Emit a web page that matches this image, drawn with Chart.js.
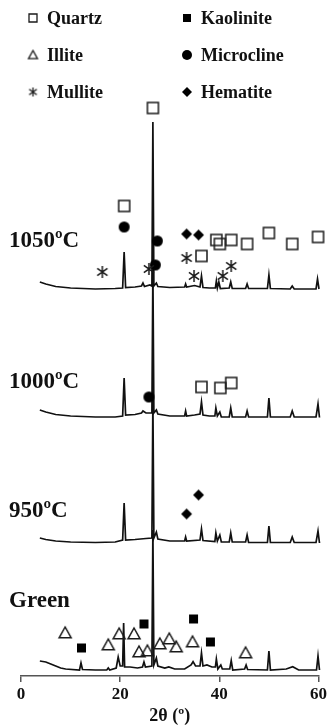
<!DOCTYPE html>
<html>
<head>
<meta charset="utf-8">
<script src="https://cdn.jsdelivr.net/npm/chart.js@4.4.0/dist/chart.umd.min.js"></script>
<style>
  html, body { margin: 0; padding: 0; background: #fff; }
  canvas { display: block; }
</style>
</head>
<body>
<canvas id="xrd" width="329" height="727"></canvas>
<script>
// 2θ axis
const xTicks = [0, 20, 40, 60];

// XRD traces: [2θ, intensity above the trace's own baseline] (a.u.)
const trace1050 = [[3.8, 5], [5, 3], [7, 0.5], [10, -1], [15, -2], [19, -1.5], [20.5, -1], [20.8, 35], [21.1, -0.5],
  [23, 0], [24.3, 1], [24.6, 4], [24.9, 0.5], [26.0, 2], [26.4, 1], [26.6, 165], [26.8, 1], [27.3, 4], [27.6, 0.5],
  [30, -0.5], [33.0, 0], [33.2, 3], [33.4, 0], [35.0, 1.5], [36.1, 0], [36.4, 11], [36.7, -0.5], [38, -1],
  [39.2, -1], [39.4, 6], [39.6, -1], [39.9, 5], [40.2, -1.5], [42.0, -1], [42.3, 5], [42.6, -1.5], [45.3, -1.5],
  [45.6, 3], [45.9, -1.5], [49.7, -1.5], [50.0, 12], [50.3, -1.5], [54.3, -2], [54.7, 1], [55.1, -2], [59.5, -2],
  [59.8, 8], [60.1, -2], [60.8, -3]];

const trace1000 = [[3.8, 7], [5, 5], [7, 2.5], [10, 1], [15, 0], [19, 0], [20.5, 1], [20.8, 39], [21.1, 2],
  [23, 2.5], [24.3, 4], [24.6, 6], [25.2, 4], [26.4, 4], [26.6, 147], [26.8, 4], [27.3, 7], [27.6, 3], [30, 1],
  [33.0, 1], [33.2, 6], [33.4, 1], [35, 2], [36.1, 3], [36.4, 15], [36.7, 2], [38, 1], [39.1, 1], [39.3, 9],
  [39.6, 1], [40.1, 5], [40.4, 0], [42.0, 0], [42.3, 9], [42.6, 0], [45.3, 0], [45.6, 6], [45.9, 0], [49.7, 0],
  [50.0, 19], [50.3, 0], [54.3, 0], [54.7, 6], [55.1, 0], [59.5, 0], [59.9, 13], [60.2, -0.5], [60.8, -1.5]];

const trace950 = [[3.8, 4], [5, 2.5], [7, 1], [10, 0], [15, -0.5], [19, 0], [20.5, 2], [20.8, 39], [21.1, 2],
  [23, 2.5], [25.2, 3.5], [26.4, 4], [26.6, 142], [26.8, 4], [27.3, 10], [27.6, 3], [30, 1], [33.0, 1], [33.2, 5],
  [33.4, 1], [36.1, 2], [36.4, 13], [36.7, 1.5], [39.1, 0.5], [39.3, 9], [39.6, 1], [40.1, 7], [40.4, 0],
  [42.0, 0], [42.3, 9], [42.6, 0], [45.3, 0], [45.6, 7], [45.9, -0.5], [49.7, -0.5], [50.0, 16], [50.3, -0.5],
  [54.3, -0.5], [54.7, 5], [55.1, -0.5], [59.5, -0.5], [59.9, 11], [60.2, -1], [60.8, -1.5]];

const traceGreen = [[3.8, 9], [5, 8], [6, 6], [7, 4], [8, 2], [9, 1], [11.8, 0], [12.1, 7], [12.4, 0.5], [15, 0],
  [17.3, 0], [17.6, 2], [17.9, 0], [19.2, 2], [19.6, 13], [20.0, 4], [20.5, 4], [20.7, 47], [20.9, 3], [22, 3],
  [23.5, 2], [24.5, 3], [24.8, 8], [25.1, 3], [26.4, 4], [26.6, 140], [26.8, 5], [27.3, 12], [27.6, 4], [29.0, 2],
  [29.8, 3], [31, 1], [33, 1], [34.3, 5], [34.7, 8.3], [35.2, 4], [36.1, 4], [36.4, 17], [36.7, 4], [37.5, 5],
  [38.5, 3], [39.2, 3], [39.4, 11], [39.7, 1], [40.3, 5], [40.6, 1], [42.1, 1], [42.4, 9.3], [42.7, 0], [45.1, 1],
  [45.4, 5], [45.7, 0.5], [49.7, 0], [50.0, 19], [50.3, 0], [53.5, 1], [54.8, 3.3], [56, 0], [59.6, 0],
  [59.9, 14], [60.2, 0], [60.8, -1.7]];

const traceNames = ['1050ºC', '1000ºC', '950ºC', 'Green'];
const traceOffsets = [389, 259, 134, 6];

// phase markers: [2θ, height in stacked plot units]
const quartzPts = [[26.6, 568], [20.8, 470], [36.4, 420], [39.4, 436], [40.1, 432], [42.4, 436], [45.6, 432],
  [50.0, 443], [54.7, 432], [59.9, 439], [36.4, 289], [40.2, 288], [42.4, 293]];
const kaolinitePts = [[12.2, 28], [24.8, 52], [34.8, 57], [38.2, 34]];
const illitePts = [[8.9, 43], [17.6, 31], [19.8, 42], [22.8, 42], [23.8, 24], [25.5, 25], [28.0, 32], [29.9, 37],
  [31.3, 29], [34.6, 34], [45.3, 23]];
const microclinePts = [[20.8, 449], [27.5, 435], [27.1, 411], [25.8, 279]];
const mullitePts = [[16.4, 404], [25.8, 407], [33.4, 418], [34.9, 400], [40.7, 400], [42.4, 410]];
const hematitePts = [[33.4, 442], [35.8, 441], [35.8, 181], [33.4, 162]];

const phaseNames = ['Quartz', 'Illite', 'Mullite', 'Kaolinite', 'Microcline', 'Hematite'];
const phasePts = [quartzPts, illitePts, mullitePts, kaolinitePts, microclinePts, hematitePts];
const phaseKinds = ['openSquare', 'triangle', 'asterisk', 'square', 'circle', 'diamond'];

const SERIF = '"Liberation Serif", "Times New Roman", serif';
Chart.defaults.font.family = SERIF;

function makeSymbol(kind, s, lw) {
  const c = document.createElement('canvas');
  c.width = c.height = Math.ceil(s) + 4;
  const g = c.getContext('2d');
  const m = c.width / 2, h = s / 2;
  g.lineWidth = lw;
  g.strokeStyle = '#1a1a1a';
  g.fillStyle = '#000';
  g.beginPath();
  if (kind === 'openSquare') {
    g.rect(m - h, m - h, s, s); g.stroke();
  } else if (kind === 'square') {
    g.rect(m - h, m - h, s, s); g.fill();
  } else if (kind === 'triangle') {
    g.moveTo(m, m - h); g.lineTo(m + h, m + h * 0.8); g.lineTo(m - h, m + h * 0.8); g.closePath(); g.stroke();
  } else if (kind === 'circle') {
    g.arc(m, m, h, 0, Math.PI * 2); g.fill();
  } else if (kind === 'asterisk') {
    g.moveTo(m, m - h); g.lineTo(m, m + h);
    g.moveTo(m - h * 0.85, m - h * 0.6); g.lineTo(m + h * 0.85, m + h * 0.6);
    g.moveTo(m + h * 0.85, m - h * 0.6); g.lineTo(m - h * 0.85, m + h * 0.6);
    g.stroke();
  } else if (kind === 'diamond') {
    g.moveTo(m, m - h); g.lineTo(m + h, m); g.lineTo(m, m + h); g.lineTo(m - h, m); g.closePath(); g.fill();
  }
  return c;
}

const plotSize = { openSquare: 11, square: 9, triangle: 12, circle: 11, asterisk: 12, diamond: 11 };
const legendSize = { openSquare: 8, square: 8, triangle: 9, circle: 10, asterisk: 9, diamond: 10 };

const toXY = pts => pts.map(([x, y]) => ({ x, y }));

const datasets = [];
[trace1050, trace1000, trace950, traceGreen].forEach((tr, i) => {
  datasets.push({
    label: traceNames[i],
    data: tr.map(([x, v]) => ({ x, y: v + traceOffsets[i] })),
    showLine: true,
    borderColor: '#111',
    borderWidth: 1.7,
    pointRadius: 0,
    tension: 0,
    clip: false,
    order: 1
  });
});
phaseNames.forEach((name, i) => {
  datasets.push({
    label: name,
    data: toXY(phasePts[i]),
    showLine: false,
    pointStyle: makeSymbol(phaseKinds[i], plotSize[phaseKinds[i]], 1.5),
    pointRadius: 6,
    clip: false,
    order: 0
  });
});

// trace names and the two-column phase legend
const annotate = {
  id: 'annotate',
  afterDraw(chart) {
    const ctx = chart.ctx;
    const ys = chart.scales.y;
    const lift = [40, 29, 25, 63];
    ctx.save();
    ctx.fillStyle = '#111';
    ctx.textBaseline = 'alphabetic';
    ctx.font = 'bold 23px ' + SERIF;
    traceNames.forEach((name, i) => {
      ctx.fillText(name, 9, ys.getPixelForValue(traceOffsets[i] + lift[i]));
    });
    ctx.font = 'bold 18px ' + SERIF;
    ctx.textBaseline = 'middle';
    phaseNames.forEach((name, i) => {
      const col = Math.floor(i / 3), row = i % 3;
      const sx = col ? 187 : 33;
      const sy = 18 + row * 37;
      const sym = makeSymbol(phaseKinds[i], legendSize[phaseKinds[i]], 1.3);
      ctx.drawImage(sym, sx - sym.width / 2, sy - sym.height / 2);
      ctx.fillText(name, sx + 14, sy + 1);
    });
    ctx.restore();
  }
};

new Chart(document.getElementById('xrd'), {
  type: 'scatter',
  data: { datasets },
  options: {
    responsive: false,
    animation: false,
    devicePixelRatio: 1,
    layout: { padding: { left: 21, right: 10, top: 96, bottom: 0 } },
    plugins: { legend: { display: false }, tooltip: { enabled: false } },
    scales: {
      x: {
        type: 'linear',
        min: 0,
        max: 60,
        afterBuildTicks: s => { s.ticks = xTicks.map(v => ({ value: v })); },
        afterFit: s => { s.height = 51; },
        border: { display: true, color: '#555', width: 1.5 },
        grid: { drawOnChartArea: false, drawTicks: true, tickLength: 6, color: '#555', lineWidth: 1.5 },
        ticks: { color: '#111', padding: 2, font: { size: 17, weight: 'bold' } },
        title: { display: true, text: '2θ (º)', color: '#111', padding: { top: 0, bottom: 0 }, font: { size: 18, weight: 'bold' } }
      },
      y: { display: false, min: 0, max: 580 }
    }
  },
  plugins: [annotate]
});
</script>
</body>
</html>
